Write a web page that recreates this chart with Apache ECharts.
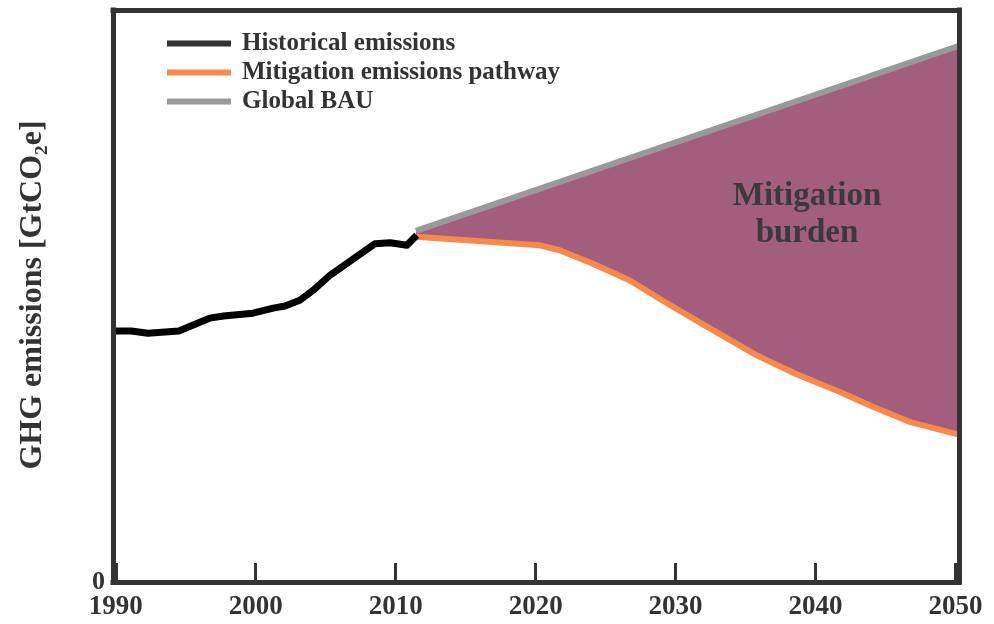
<!DOCTYPE html>
<html>
<head>
<meta charset="utf-8">
<style>html,body{margin:0;padding:0;background:#fff;}#c{width:994px;height:624px;}</style>
<script src="https://cdn.jsdelivr.net/npm/echarts@6/dist/echarts.min.js"></script>
</head>
<body>
<div id="c"></div>
<script>
// ---- data (units GtCO2e, approximate) ----
var histYears = [1990, 1991.1, 1992.3, 1994.5, 1996.7, 1997.7, 1999.8, 2001.25, 2002.1, 2003.15, 2004.1, 2005.3, 2007.2, 2008.5, 2009.6, 2010.8, 2011.5];
var histValues = [35.1, 35.1, 34.8, 35.1, 36.9, 37.2, 37.6, 38.3, 38.6, 39.4, 40.8, 42.9, 45.5, 47.3, 47.45, 47.1, 48.5];
var mitYears = [2011.45, 2020.3, 2021.7, 2024.1, 2026.7, 2029.8, 2032.7, 2035.8, 2038.6, 2041.7, 2044.1, 2046.7, 2050.25];
var mitValues = [48.3, 47.1, 46.4, 44.5, 42.2, 38.5, 35.2, 31.7, 29.1, 26.6, 24.5, 22.4, 20.6];
var bauYears = [2011.45, 2050.25];
var bauValues = [49.1, 75.0];
var tickYears = [1990, 2000, 2010, 2020, 2030, 2040, 2050];
var seriesNames = ['Historical emissions', 'Mitigation emissions pathway', 'Global BAU'];
var burdenLabel = ['Mitigation', 'burden'];

function pairs(xs, ys) { return xs.map(function (x, i) { return [x, ys[i]]; }); }

var FONT = '"Liberation Serif", "DejaVu Serif", serif';
var TXT = '#333333';
var chart = echarts.init(document.getElementById('c'), null, { renderer: 'canvas' });

var axisLineStyle = { color: '#333333', width: 5, cap: 'square' };

chart.setOption({
  animation: false,
  backgroundColor: '#ffffff',
  grid: { left: 113, right: 35, top: 10, bottom: 42, containLabel: false },
  legend: {
    orient: 'vertical',
    left: 167, top: 29, padding: 0,
    itemWidth: 64, itemHeight: 6, itemGap: 0,
    icon: 'rect',
    textStyle: { fontFamily: FONT, fontWeight: 'bold', fontSize: 25, color: TXT, lineHeight: 29, padding: [0, 0, 0, 6] },
    data: [
      { name: seriesNames[0], icon: 'rect', itemStyle: { color: '#333333' } },
      { name: seriesNames[1], icon: 'rect', itemStyle: { color: '#f7894a' } },
      { name: seriesNames[2], icon: 'rect', itemStyle: { color: '#999999' } }
    ]
  },
  xAxis: [{
    type: 'value', position: 'bottom', min: 1989.8, max: 2050.25, z: 10,
    axisLine: { show: true, onZero: false, lineStyle: axisLineStyle },
    axisTick: { show: true, inside: true, length: 19, customValues: tickYears, lineStyle: { color: '#333333', width: 3 } },
    axisLabel: { show: true, customValues: tickYears, margin: 12, fontFamily: FONT, fontWeight: 'bold', fontSize: 27, color: TXT,
      formatter: function (v) { return String(Math.round(v)); } },
    splitLine: { show: false }
  }, {
    type: 'value', position: 'top', min: 1989.8, max: 2050.25, z: 10,
    axisLine: { show: true, onZero: false, lineStyle: axisLineStyle },
    axisTick: { show: false }, axisLabel: { show: false }, splitLine: { show: false }
  }],
  yAxis: [{
    type: 'value', position: 'left', min: 0, max: 80, interval: 80, z: 10,
    axisLine: { show: true, onZero: false, lineStyle: axisLineStyle },
    axisTick: { show: false },
    axisLabel: { margin: 8, fontFamily: FONT, fontWeight: 'bold', fontSize: 26, color: TXT,
      formatter: function (v) { return v === 0 ? '0' : ''; } },
    splitLine: { show: false }
  }, {
    type: 'value', position: 'right', min: 0, max: 80, interval: 80, z: 10,
    axisLine: { show: true, onZero: false, lineStyle: axisLineStyle },
    axisTick: { show: false }, axisLabel: { show: false }, splitLine: { show: false }
  }],
  graphic: [
    { type: 'text', x: 33, y: 295, rotation: Math.PI / 2, z: 20,
      style: { text: 'GHG emissions [GtCO\u2082e]', font: 'bold 32px ' + FONT, fill: TXT, textAlign: 'center', textVerticalAlign: 'middle' } },
    { type: 'text', x: 807, y: 196, z: 20,
      style: { text: burdenLabel[0], font: 'bold 33px ' + FONT, fill: '#3a3a3a', textAlign: 'center', textVerticalAlign: 'middle' } },
    { type: 'text', x: 807, y: 233, z: 20,
      style: { text: burdenLabel[1], font: 'bold 33px ' + FONT, fill: '#3a3a3a', textAlign: 'center', textVerticalAlign: 'middle' } }
  ],
  series: [
    {
      type: 'custom', name: 'burden', xAxisIndex: 0, yAxisIndex: 0, z: 1, silent: true,
      data: [[2030, 50]],
      renderItem: function (params, api) {
        var pts = [];
        for (var i = 0; i < mitYears.length; i++) pts.push(api.coord([mitYears[i], mitValues[i]]));
        for (var j = bauYears.length - 1; j >= 0; j--) pts.push(api.coord([bauYears[j], bauValues[j]]));
        return { type: 'polygon', shape: { points: pts }, style: { fill: '#a35e7e' } };
      }
    },
    {
      name: seriesNames[2], type: 'line', data: pairs(bauYears, bauValues), z: 3,
      showSymbol: false, symbol: 'none', lineStyle: { color: '#999999', width: 6 }, itemStyle: { color: '#999999' }
    },
    {
      name: seriesNames[1], type: 'line', data: pairs(mitYears, mitValues), z: 4,
      showSymbol: false, symbol: 'none', lineStyle: { color: '#f7894a', width: 6, join: 'round' }, itemStyle: { color: '#f7894a' }
    },
    {
      name: seriesNames[0], type: 'line', data: pairs(histYears, histValues), z: 5,
      showSymbol: false, symbol: 'none', lineStyle: { color: '#000000', width: 7, join: 'round' }, itemStyle: { color: '#000000' }
    }
  ]
});
</script>
</body>
</html>
